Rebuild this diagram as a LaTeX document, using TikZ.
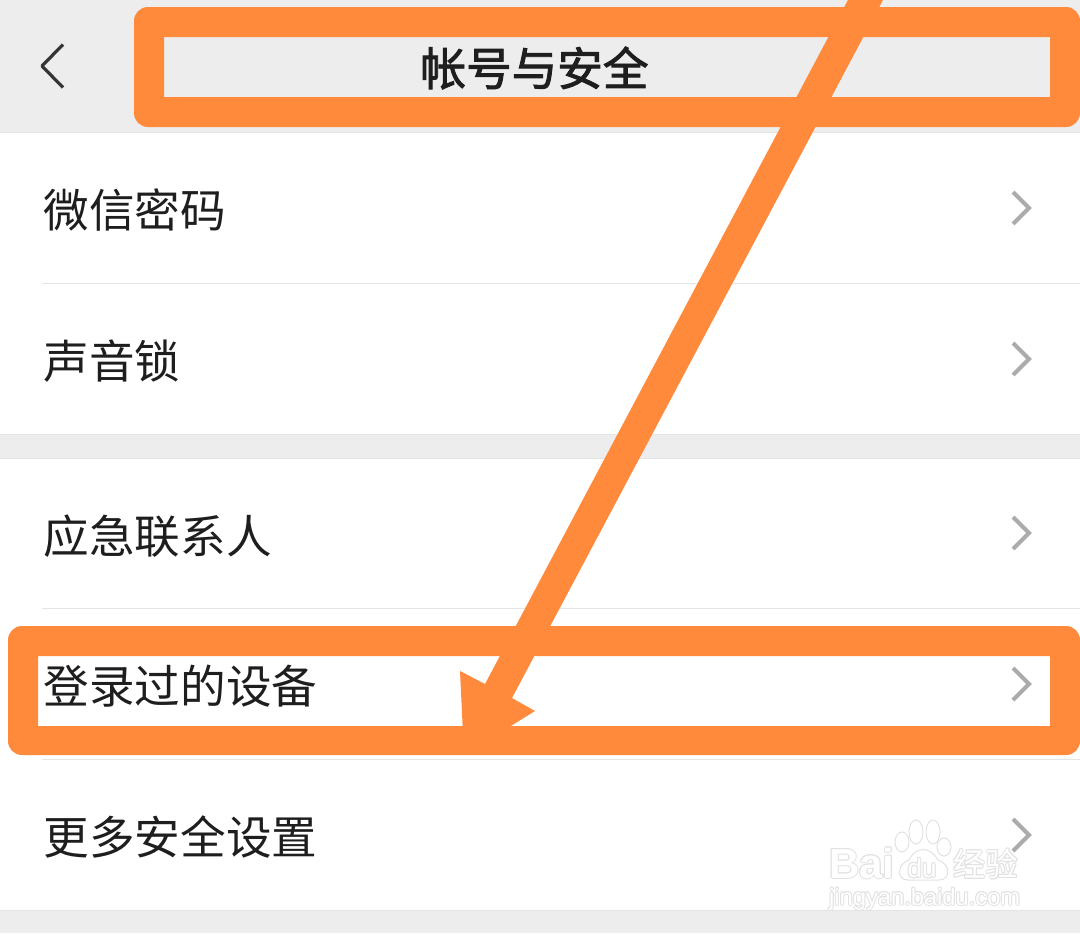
\documentclass[tikz,border=0pt]{standalone}
\usepackage{fontspec}
\setmainfont{Noto Sans CJK SC}
\newfontfamily\titlefont[FakeBold=2]{Noto Sans CJK SC}
\newfontfamily\latinfont{Liberation Sans}
\definecolor{bandgray}{HTML}{EDEDED}
\definecolor{sepgray}{HTML}{E4E4E4}
\definecolor{orangemark}{HTML}{FF8A3C}
\definecolor{chevgray}{HTML}{ABABAB}
\definecolor{inkdark}{HTML}{1E1E1E}
\definecolor{wmgray}{HTML}{E2E2E2}
\newcommand{\shifted}[3]{\rlap{\kern#1pt\raisebox{#2pt}{\textcolor{wmgray}{#3}}}}
\newcommand{\outlined}[1]{\shifted{-1}{0}{#1}\shifted{1}{0}{#1}\shifted{0}{1}{#1}\shifted{0}{-1}{#1}\shifted{-0.7}{0.7}{#1}\shifted{0.7}{0.7}{#1}\shifted{-0.7}{-0.7}{#1}\shifted{0.7}{-0.7}{#1}\textcolor{white}{#1}}
\tikzset{
  x=1pt,y=-1pt,
  rowlabel/.style={anchor=west,inner sep=0pt,font=\fontsize{45.6}{45.6}\selectfont,text=inkdark},
  titlelabel/.style={anchor=center,inner sep=0pt,font=\titlefont\fontsize{45.6}{45.6}\selectfont,text=inkdark},
  sepline/.style={draw=sepgray,line width=1pt},
  chev/.style={draw=chevgray,line width=4pt,miter limit=10},
  markbox/.style={draw=none,fill=orangemark,even odd rule},
}
\newcommand{\chevron}[1]{\draw[chev] (1013,#1-16) -- (1029,#1) -- (1013,#1+16);}
\begin{document}
\begin{tikzpicture}
\useasboundingbox (0,0) rectangle (1080,935);
\fill[white] (0,0) rectangle (1080,935);
% bands
\fill[bandgray] (0,0) rectangle (1080,132);
\fill[bandgray] (0,434) rectangle (1080,458);
\fill[bandgray] (0,910) rectangle (1080,933);
\draw[sepline] (0,132.5) -- (1080,132.5);
\draw[sepline] (0,434) -- (1080,434);
\draw[sepline] (0,458) -- (1080,458);
\draw[sepline] (0,910) -- (1080,910);
\draw[sepline] (42,283.5) -- (1080,283.5);
\draw[sepline] (42,608.5) -- (1080,608.5);
\draw[sepline] (42,759.5) -- (1080,759.5);
% back
\draw[draw=inkdark!90,line width=3.2pt,line join=round] (63,44.5) -- (42,66) -- (63,87.5);
% texts
\node[titlelabel] (title) at (534.5,68) {帐号与安全};
\node[rowlabel] (r1) at (43.5,210) {微信密码};
\node[rowlabel] (r2) at (43.5,361) {声音锁};
\node[rowlabel] (r3) at (43.5,536) {应急联系人};
\node[rowlabel] (r4) at (43.5,686) {登录过的设备};
\node[rowlabel] (r5) at (43.5,837) {更多安全设置};
% watermark
\begin{scope}[draw=wmgray,line width=1pt,fill=white]
  \filldraw (902,842) ellipse (7 and 10);
  \filldraw (916,832) ellipse (7 and 12);
  \filldraw (933,832) ellipse (7 and 12);
  \filldraw (944,847) ellipse (7 and 9);
  \filldraw (908,880) .. controls (896,880) and (897,864) .. (909,860)
     .. controls (916,846) and (930,846) .. (938,860)
     .. controls (951,864) and (951,880) .. (939,880) -- cycle;
\end{scope}
\node[anchor=west,inner sep=0pt,font=\latinfont\bfseries\fontsize{42}{42}\selectfont] (wm1) at (829,863) {\outlined{Bai}};
\node[anchor=center,inner sep=0pt,font=\latinfont\fontsize{26}{26}\selectfont] (wm2) at (922,868) {\outlined{du}};
\node[anchor=west,inner sep=0pt,font=\fontsize{32.5}{32.5}\selectfont] (wm3) at (953,864) {\outlined{经验}};
\node[anchor=west,inner sep=0pt,font=\latinfont\fontsize{23.7}{23.7}\selectfont] (wm4) at (829,899) {\outlined{jingyan.baidu.com}};
% chevrons
\chevron{208}
\chevron{359}
\chevron{533}
\chevron{684}
\chevron{835}
% orange boxes
\path[markbox] [rounded corners=14pt] (134,7) rectangle (1080,127) [sharp corners] (164,37) rectangle (1050,97);
\path[markbox] [rounded corners=14pt] (8,626) rectangle (1080,755) [sharp corners] (38,656) rectangle (1050,726);
% arrow
\fill[orangemark] (848,0) -- (883,0) -- (512,698) -- (535,711) -- (464,755) -- (460,671) -- (485,684) -- cycle;
\end{tikzpicture}
\end{document}
